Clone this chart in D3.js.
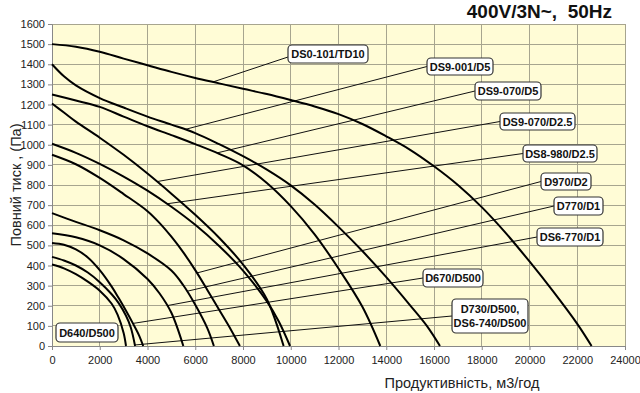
<!DOCTYPE html>
<html><head><meta charset="utf-8">
<script src="https://cdn.jsdelivr.net/npm/d3@7"></script>
<style>body{margin:0;background:#fff}</style></head>
<body>
<svg id="c" width="640" height="393"></svg>
<script>
// ---- data ----
const xTicks = [0,2000,4000,6000,8000,10000,12000,14000,16000,18000,20000,22000,24000];
const yTicks = [0,100,200,300,400,500,600,700,800,900,1000,1100,1200,1300,1400,1500,1600];
const title = "400V/3N~,  50Hz";
const xTitle = "Продуктивність, м3/год";
const yTitle = "Повний тиск , (Па)";

const curveDS0101 = [[0,1500],[1000,1487],[2000,1462],[3000,1428],[4000,1395],[5000,1362],[6000,1332],[7000,1305],[8000,1278],[9000,1252],[10000,1222],[11000,1190],[12000,1152],[13000,1103],[14000,1042],[15000,975],[16000,893],[17000,800],[18000,690],[19000,562],[20000,420],[21000,270],[22000,110],[22600,0]];
const curveDS9001 = [[0,1400],[500,1340],[1000,1295],[2000,1232],[3000,1185],[4000,1140],[5000,1100],[6000,1058],[7000,1003],[8000,943],[9000,876],[10000,798],[11000,703],[12000,592],[13000,472],[14000,342],[15000,202],[15700,100],[16250,0]];
const curveDS9070D5 = [[0,1250],[1000,1220],[2000,1188],[3000,1140],[4000,1092],[5000,1048],[6000,1003],[7000,955],[8000,898],[9000,810],[10000,695],[11000,555],[12000,385],[13000,195],[13750,0]];
const curveDS9070D25 = [[0,1205],[500,1160],[1000,1115],[2000,1035],[3000,950],[4000,857],[5000,757],[6000,652],[7000,538],[8000,405],[9000,232],[9700,0]];
const curveDS8980 = [[0,1005],[1000,960],[2000,905],[3000,842],[4000,772],[5000,692],[6000,602],[7000,497],[8000,375],[9000,222],[9500,122],[9970,0]];
const curveD970 = [[0,950],[1000,903],[2000,835],[3000,755],[4000,670],[4500,612],[5000,543],[5500,465],[6000,377],[6500,280],[7000,180],[7500,80],[7870,0]];
const curveD770 = [[0,660],[1000,617],[2000,575],[3000,525],[4000,460],[5000,375],[5500,302],[6000,205],[6500,90],[6780,0]];
const curveDS6770 = [[0,560],[1000,540],[2000,500],[3000,432],[4000,333],[4500,262],[5000,165],[5500,0]];
const curveD670 = [[0,512],[500,503],[1000,480],[1500,440],[2000,377],[2500,295],[2800,237],[3100,175],[3400,110],[3650,52],[3820,0]];
const curveD730 = [[0,443],[500,425],[1000,400],[1500,365],[2000,317],[2500,257],[2800,212],[3100,150],[3300,92],[3480,0]];
const curveD640 = [[0,405],[500,386],[1000,357],[1500,320],[2000,275],[2500,210],[2750,155],[3000,65],[3100,0]];

const curves = [curveDS0101,curveDS9001,curveDS9070D5,curveDS9070D25,curveDS8980,curveD970,curveD770,curveDS6770,curveD670,curveD730,curveD640];
const labelNames = [["DS0-101/TD10"],["DS9-001/D5"],["DS9-070/D5"],["DS9-070/D2.5"],["DS8-980/D2.5"],["D970/D2"],["D770/D1"],["DS6-770/D1"],["D670/D500"],["D730/D500,","DS6-740/D500"],["D640/D500"]];
const leaderFlow = [6740,5570,6910,4400,4817,6073,5655,4817,3390,3470,null];

// ---- layout ----
const x = d3.scaleLinear().domain([0,24000]).range([52,625]);
const y = d3.scaleLinear().domain([0,1600]).range([346,24]);
const boxes = [ // left, top, width, height (pixels)
  [288,45,80,18],[427,58,66,17],[475,82,66,18],[500,113,75,17],[523,145,74,17],
  [541,173,50,17],[554,197,49,18],[537,228,66,18],[423,269,60,18],[452,299,76,34],[56,323,62,19]
];
const svg = d3.select("#c");
const font = "'Liberation Sans', Arial, sans-serif";

svg.append("rect").attr("x",x(0)).attr("y",y(1600)).attr("width",x(24000)-x(0)).attr("height",y(0)-y(1600)).attr("fill","#fffcd6");

const g = svg.append("g");
g.selectAll(".hg").data(yTicks).join("line").attr("x1",x(0)).attr("x2",x(24000)).attr("y1",d=>y(d)).attr("y2",d=>y(d)).attr("stroke","#a7a58f").attr("stroke-width",1).attr("shape-rendering","crispEdges");
g.selectAll(".vg").data(xTicks).join("line").attr("y1",y(0)).attr("y2",y(1600)).attr("x1",d=>x(d)).attr("x2",d=>x(d)).attr("stroke","#a7a58f").attr("stroke-width",1).attr("shape-rendering","crispEdges");

// axes
const xa = svg.append("g").attr("transform",`translate(0,${y(0)})`).call(d3.axisBottom(x).tickValues(xTicks).tickSize(4).tickPadding(6).tickFormat(d3.format("d")));
const ya = svg.append("g").attr("transform",`translate(${x(0)},0)`).call(d3.axisLeft(y).tickValues(yTicks).tickSize(4).tickPadding(3).tickFormat(d3.format("d")));
[xa,ya].forEach(a=>{
  a.select(".domain").attr("stroke","#888");
  a.selectAll(".tick line").attr("stroke","#888");
  a.selectAll("text").attr("font-family",font).attr("font-size",11).attr("fill","#222");
});

// leader lines
function interp(data, fx){
  for(let i=0;i<data.length-1;i++){
    if(fx>=data[i][0] && fx<=data[i+1][0]){
      const t=(fx-data[i][0])/(data[i+1][0]-data[i][0]);
      return data[i][1]+t*(data[i+1][1]-data[i][1]);
    }
  }
  return 0;
}
curves.forEach((c,i)=>{
  if(leaderFlow[i]==null) return;
  const b=boxes[i];
  svg.append("line").attr("x1",b[0]).attr("y1",b[1]+b[3]/2+(i===0?3:0)).attr("x2",x(leaderFlow[i])).attr("y2",y(interp(c,leaderFlow[i]))).attr("stroke","#111").attr("stroke-width",1);
});

// curves
const line = d3.line().x(d=>x(d[0])).y(d=>y(d[1])).curve(d3.curveCatmullRom.alpha(0.5));
svg.append("g").selectAll("path").data(curves).join("path").attr("d",line).attr("fill","none").attr("stroke","#000").attr("stroke-width",2).attr("stroke-linejoin","round");

// labels
labelNames.forEach((lines,i)=>{
  const b=boxes[i];
  svg.append("rect").attr("x",b[0]).attr("y",b[1]).attr("width",b[2]).attr("height",b[3]).attr("rx",4).attr("fill","#fff").attr("stroke","#333").attr("stroke-width",1.2);
  const t=svg.append("text").attr("x",b[0]+b[2]/2).attr("text-anchor","middle").attr("font-family",font).attr("font-weight","bold").attr("font-size",11).attr("fill","#111");
  const n=lines.length;
  lines.forEach((s,k)=>{
    t.append("tspan").attr("x",b[0]+b[2]/2).attr("y",b[1]+b[3]/2+4+(k-(n-1)/2)*14).text(s);
  });
});

// titles
svg.append("text").attr("x",612).attr("y",18).attr("text-anchor","end").attr("font-family",font).attr("font-weight","bold").attr("font-size",19).attr("fill","#111").style("white-space","pre").text(title);
svg.append("text").attr("x",462).attr("y",388).attr("text-anchor","middle").attr("font-family",font).attr("font-size",14.5).attr("fill","#222").text(xTitle);
svg.append("text").attr("transform","translate(21,185) rotate(-90)").attr("text-anchor","middle").attr("font-family",font).attr("font-size",14.5).attr("fill","#222").text(yTitle);
</script>
</body></html>
